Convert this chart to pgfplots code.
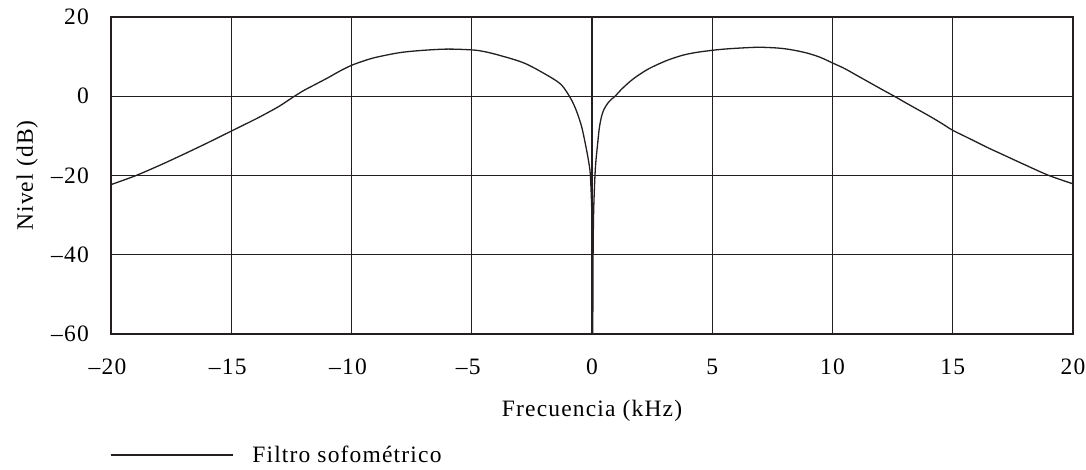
\documentclass[border=0pt]{standalone}
\usepackage{fontspec}
\setmainfont{Liberation Serif}[LetterSpace=5]
\usepackage{pgfplots}
\pgfplotsset{compat=1.18}
\definecolor{ink}{HTML}{231F20}
\begin{document}
\begin{tikzpicture}[font=\fontsize{23.5}{27}\selectfont]
\begin{axis}[
  scale only axis, width=962pt, height=317pt,
  xmin=-20, xmax=20, ymin=-60, ymax=20,
  xtick={-20,-15,...,20}, ytick={-60,-40,...,20},
  xticklabels={–20\kern7pt,–15\kern7pt,–10\kern7pt,–5\kern7pt,0,5,10,15,20},
  yticklabels={–60,–40,–20,0,20},
  grid=major, major grid style={ink, line width=1.3pt},
  axis line style={ink, line width=1.3pt},
  major tick length=0pt,
  xticklabel style={anchor=base, inner sep=0pt, yshift=-41pt},
  yticklabel style={anchor=east, inner sep=0pt, xshift=-22pt},
  xlabel={Frecuencia (kHz)}, ylabel={Nivel (dB)},
  xlabel style={at={(axis description cs:0.5,-0.2588)}, anchor=base},
  ylabel style={at={(axis description cs:-0.0811,0.5)}, anchor=base},
  legend style={at={(axis description cs:-0.001,-0.3817)}, anchor=west,
    draw=none, fill=none, inner sep=0pt, outer sep=0pt,
    nodes={inner sep=0pt},
    /tikz/every odd column/.style={column sep=19pt}},
  legend image code/.code={\draw[#1] (0pt,0pt) -- (122pt,0pt);},
]
\addplot[ink, line width=1.3pt, line join=round, smooth, tension=0.5] table {
x y
-20 -22.3
-19 -20.1
-18 -17.5
-17 -14.7
-16 -11.8
-15 -8.8
-14.5 -7.3
-14 -5.8
-13.5 -4.2
-13 -2.5
-12.45 -0.3
-12 1.4
-11.5 3.0
-11 4.6
-10.5 6.3
-10 7.8
-9.5 8.9
-9 9.8
-8 11.0
-7 11.6
-6 11.9
-5 11.7
-4.5 11.3
-3.83 10.3
-2.79 8.3
-1.75 4.9
-1.26 2.8
-0.91 -0.3
-0.75 -2.2
-0.61 -4.3
-0.43 -7.7
-0.28 -11.9
-0.15 -16.1
-0.07 -19.8
-0.01 -28.7
0.02 -40
0.03 -60
0.045 -40
0.07 -28.7
0.125 -19.8
0.166 -16.1
0.236 -11.9
0.305 -8.0
0.4 -5.0
0.5 -3.3
0.65 -1.8
0.8 -0.8
0.96 0.0
1.2 1.6
1.5 3.3
1.72 4.4
2.0 5.6
2.41 7.1
3.1 9.0
3.8 10.4
4.49 11.2
5.5 11.9
6.8 12.35
7.5 12.25
8 12.0
8.5 11.5
9 10.8
9.5 9.8
10 8.4
10.5 7.0
11 5.3
11.5 3.6
12 1.9
12.66 -0.3
13 -1.5
13.5 -3.2
14 -4.9
14.5 -6.7
15 -8.6
15.5 -10.1
16 -11.6
16.5 -13.1
17 -14.5
18 -17.3
19 -20.0
20 -22.1
};
\addlegendentry{Filtro sofométrico}
\coordinate (SW) at (rel axis cs:0,0);
\end{axis}
\pgfresetboundingbox
\path ([shift={(-111pt,-136pt)}]SW) rectangle ([shift={(975pt,334pt)}]SW);
\end{tikzpicture}
\end{document}
